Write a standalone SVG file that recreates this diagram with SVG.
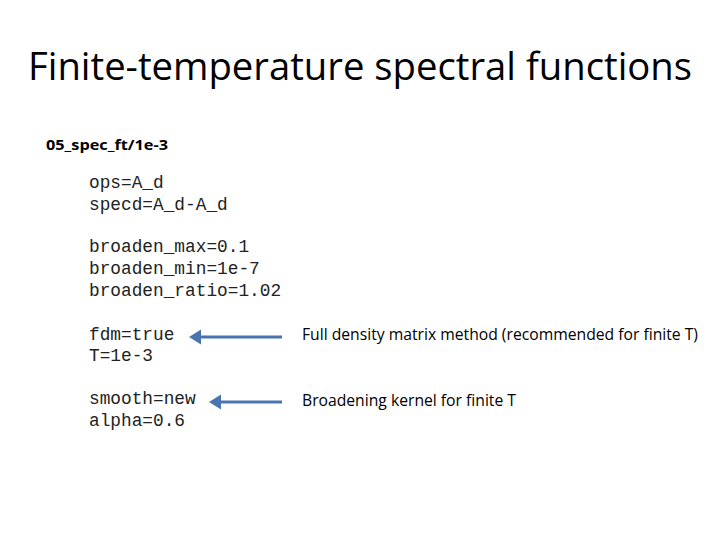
<svg xmlns="http://www.w3.org/2000/svg" width="720" height="540" viewBox="0 0 720 540">
<style>
.m{font-family:"Liberation Mono",monospace;font-size:17.8px;fill:#222}
.s{font-family:"Open Sans","Liberation Sans",sans-serif;fill:#000}
.a{stroke:#4a74b0;stroke-width:3;fill:none;marker-end:url(#h)}
</style>
<defs><marker id="h" markerWidth="6" markerHeight="6" refX="3" refY="3" orient="auto" markerUnits="strokeWidth"><path d="M0,0.5 L4,3 L0,5.5 Z" fill="#4a74b0"/></marker></defs>
<rect width="720" height="540" fill="#fff"/>
<g id="title"><text class="s" x="360" y="80" font-size="38" text-anchor="middle" textLength="664" lengthAdjust="spacingAndGlyphs">Finite-temperature spectral functions</text></g>
<g id="path"><text class="s" x="46" y="150" font-size="15" font-weight="bold" textLength="122" lengthAdjust="spacingAndGlyphs">05_spec_ft/1e-3</text></g>
<g id="params">
<text class="m" x="89" y="188">ops=A_d</text>
<text class="m" x="89" y="210">specd=A_d-A_d</text>
<text class="m" x="89" y="252">broaden_max=0.1</text>
<text class="m" x="89" y="274">broaden_min=1e-7</text>
<text class="m" x="89" y="296">broaden_ratio=1.02</text>
<text class="m" x="89" y="340">fdm=true</text>
<text class="m" x="89" y="361">T=1e-3</text>
<text class="m" x="89" y="404">smooth=new</text>
<text class="m" x="89" y="426">alpha=0.6</text>
</g>
<g id="notes">
<text class="s" x="302" y="340" font-size="16" textLength="396" lengthAdjust="spacingAndGlyphs">Full density matrix method (recommended for finite T)</text>
<text class="s" x="302" y="406" font-size="16" textLength="214" lengthAdjust="spacingAndGlyphs">Broadening kernel for finite T</text>
</g>
<g id="connectors">
<line class="a" x1="282" y1="337" x2="192" y2="337"/>
<line class="a" x1="282" y1="402" x2="212" y2="402"/>
</g>
</svg>
